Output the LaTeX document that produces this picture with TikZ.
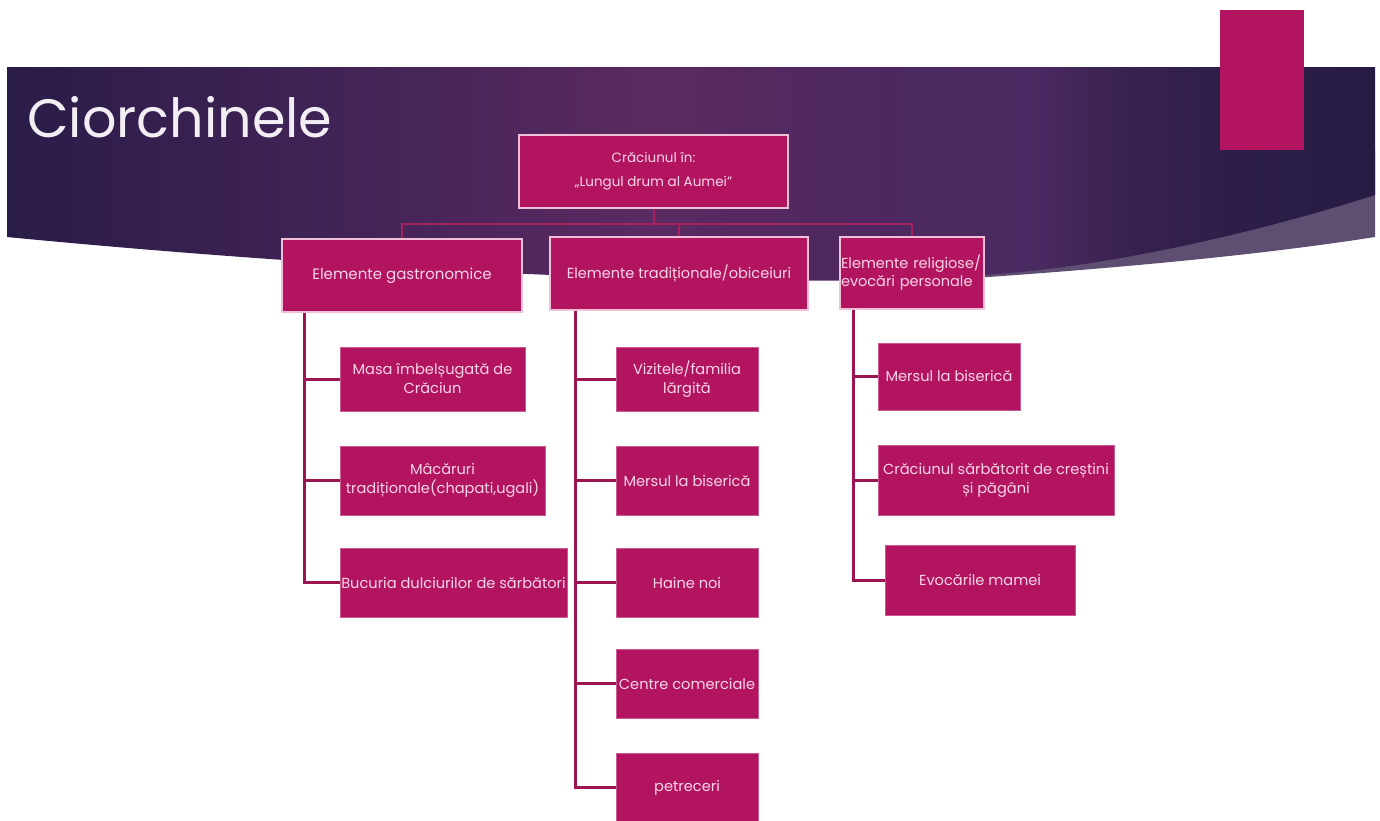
\documentclass[tikz,border=0pt]{standalone}
\usepackage{fontspec}
\setmainfont{Poppins}
\usetikzlibrary{calc}
\definecolor{bA}{HTML}{2A1C48}
\definecolor{bB}{HTML}{422457}
\definecolor{bC}{HTML}{5A2A60}
\definecolor{bD}{HTML}{4E2860}
\definecolor{bE}{HTML}{4A2A62}
\definecolor{bF}{HTML}{38224F}
\definecolor{bH}{HTML}{2C1E48}
\definecolor{bG}{HTML}{271B43}
\definecolor{bandcol}{HTML}{5E4E72}
\definecolor{boxfill}{HTML}{B3145F}
\definecolor{boxline}{HTML}{F0C0D8}
\definecolor{childline}{HTML}{CC5A92}
\definecolor{boxtext}{HTML}{F6D6E6}
\definecolor{linkcol}{HTML}{9C1450}
\definecolor{buscol}{HTML}{A8205E}
\definecolor{titlecol}{HTML}{F2EEF4}
\pgfdeclarehorizontalshading{bannershade}{100bp}{color(0bp)=(bA); color(25bp)=(bA); color(37.5bp)=(bB); color(48.5bp)=(bC); color(56bp)=(bD); color(62.5bp)=(bE); color(66bp)=(bF); color(70bp)=(bH); color(75bp)=(bG); color(100bp)=(bG)}
\begin{document}
\begin{tikzpicture}[x=1pt,y=-1pt,
  topbox/.style={draw=boxline, line width=1.4pt, fill=boxfill, text=boxtext, inner sep=0pt, align=center, font=\fontsize{15}{24}\selectfont},
  childbox/.style={draw=childline, line width=0.8pt, fill=boxfill, text=boxtext, inner sep=0pt, align=center, font=\fontsize{14.6}{19}\selectfont},
  link/.style={draw=linkcol, line width=3pt},
  buslink/.style={draw=buscol, line width=2pt}]
\useasboundingbox (0,0) rectangle (1380,820);
\fill[white] (0,0) rectangle (1380,820);
% background banner
\fill[bandcol] (960,279) .. controls (1120,268) and (1260,255) .. (1375,237) -- (1375,150) -- (960,150) -- cycle;
\shade[shading=bannershade] (7,67) -- (1375,67) -- (1375,195) .. controls (1250,235) and (1100,268) .. (983,275) .. controls (800,290) and (400,275) .. (7,237) -- cycle;
\fill[boxfill] (1220,10) rectangle (1304,150);
\node[anchor=base west, text=titlecol, font=\fontsize{54}{58}\selectfont, inner sep=0pt] (title) at (27,137) {Ciorchinele};
% root and level 1
\node[topbox, minimum width=269, minimum height=73, font=\fontsize{13.5}{24}\selectfont] (root) at (653.5,171.5) {Crăciunul în:\\„Lungul drum al Aumei”};
\node[topbox, minimum width=240, minimum height=73] (gastro) at (402,275.5) {Elemente gastronomice};
\node[topbox, minimum width=258, minimum height=73, font=\fontsize{14.5}{24}\selectfont] (trad) at (679,273.5) {Elemente tradiționale/obiceiuri};
\node[topbox, minimum width=144, minimum height=72, text width=142, align=left, font=\fontsize{14.5}{18}\selectfont] (relig) at (912,273) {Elemente religiose/\\evocări personale};
% bus
\coordinate (busy) at (0,224);
\draw[buslink] (root.south) -- (root.south |- busy);
\draw[buslink] (gastro.north) |- (relig.north |- busy) -- (relig.north);
\draw[buslink] (trad.north) -- (trad.north |- busy);
% gastronomic children
\node[childbox, minimum width=185, minimum height=64] (masa) at (432.5,379) {Masa îmbelșugată de\\Crăciun};
\node[childbox, minimum width=205, minimum height=69] (mac) at (442.5,480.5) {Mâcăruri\\tradiționale(chapati,ugali)};
\node[childbox, minimum width=227, minimum height=69] (buc) at (453.5,582.5) {Bucuria dulciurilor de sărbători};
% traditional children
\node[childbox, minimum width=142, minimum height=64] (viz) at (687,379) {Vizitele/familia\\lărgită};
\node[childbox, minimum width=142, minimum height=69] (mers) at (687,480.5) {Mersul la biserică};
\node[childbox, minimum width=142, minimum height=69] (haine) at (687,582.5) {Haine noi};
\node[childbox, minimum width=142, minimum height=69] (centre) at (687,683.5) {Centre comerciale};
\node[childbox, minimum width=142, minimum height=69] (petr) at (687,787.5) {petreceri};
% religious children
\node[childbox, minimum width=142, minimum height=67] (mersr) at (949,376.5) {Mersul la biserică};
\node[childbox, minimum width=236, minimum height=70] (cracr) at (996,480) {Crăciunul sărbătorit de creștini\\și păgâni};
\node[childbox, minimum width=190, minimum height=70] (evoc) at (980,580) {Evocările mamei};
% connectors
\coordinate (gv) at ($(gastro.south west)+(23,0)$);
\draw[link] (gv) |- (buc.west);
\draw[link] (gv |- masa.west) -- (masa.west);
\draw[link] (gv |- mac.west) -- (mac.west);
\coordinate (tv) at ($(trad.south west)+(26,0)$);
\draw[link] (tv) |- (petr.west);
\draw[link] (tv |- viz.west) -- (viz.west);
\draw[link] (tv |- mers.west) -- (mers.west);
\draw[link] (tv |- haine.west) -- (haine.west);
\draw[link] (tv |- centre.west) -- (centre.west);
\coordinate (rv) at ($(relig.south west)+(14,0)$);
\draw[link] (rv) |- (evoc.west);
\draw[link] (rv |- mersr.west) -- (mersr.west);
\draw[link] (rv |- cracr.west) -- (cracr.west);
\end{tikzpicture}
\end{document}
